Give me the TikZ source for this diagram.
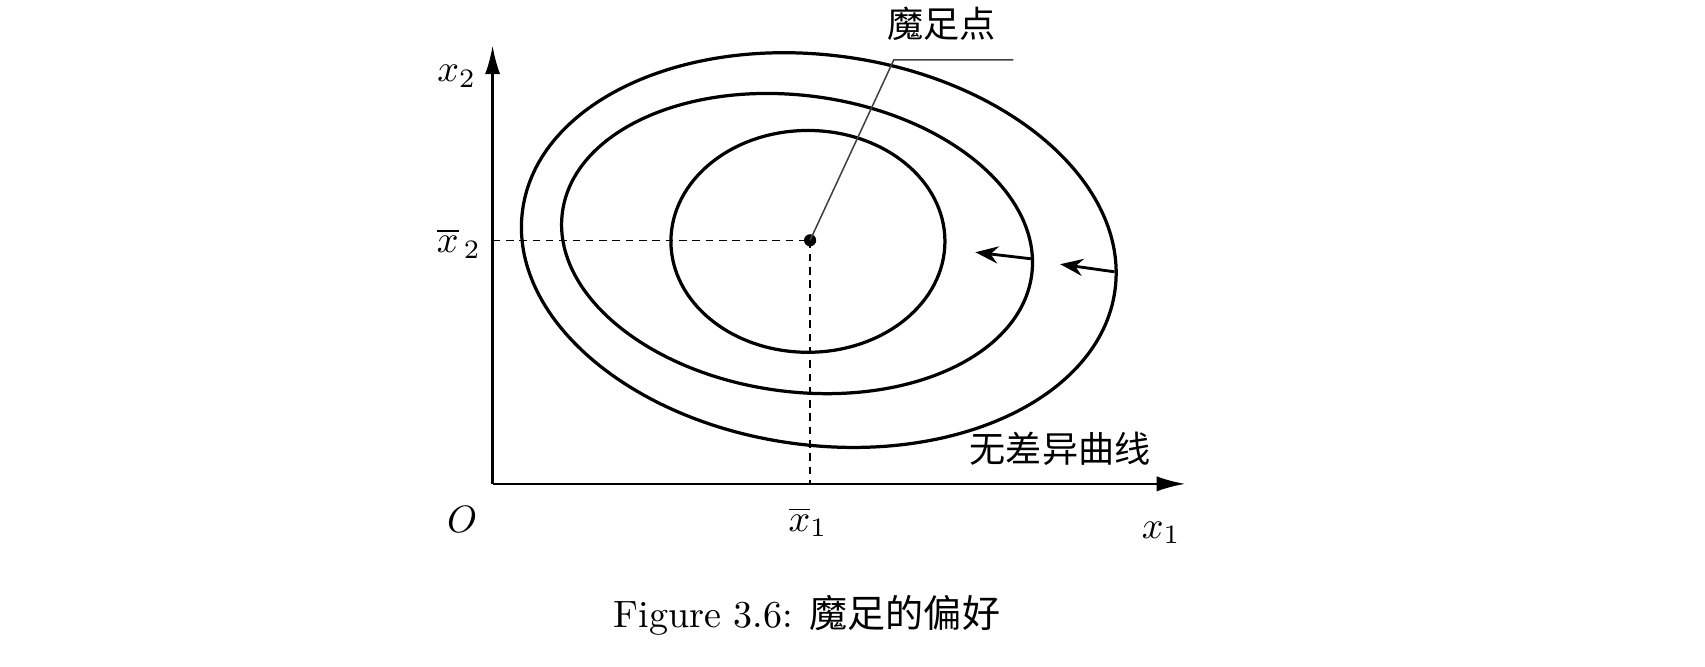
\documentclass[tikz,border=0pt]{standalone}
\usepackage{fontspec}
\newfontfamily\cjk{Noto Sans CJK SC}
\usetikzlibrary{arrows.meta}
\begin{document}
\begin{tikzpicture}[x=0.2857pt,y=0.2857pt,
  curve/.style={line width=0.85pt},
  axis/.style={line width=0.6pt,-{Latex[length=7.5pt,width=4pt]}},
  guide/.style={line width=0.35pt, dash pattern=on 2pt off 1.5pt},
  shiftarrow/.style={line width=0.75pt,-{Stealth[length=6pt,width=4.5pt,inset=2pt]}},
  lbl/.style={inner sep=0pt},
  leader/.style={line width=0.4pt, black!75}]
\useasboundingbox (0,0) rectangle (1568,613);
% axes
\coordinate (O) at (453,168);
\coordinate (ytip) at (453,571);
\coordinate (xtip) at (1090,168);
\draw[axis] (O) -- (ytip);
\draw[axis] (O) -- (xtip);
% indifference curves
\draw[curve] (743,391) ellipse [x radius=36pt, y radius=29.14pt];
\draw[curve, shift={(733,389)}, rotate=-7.6] (0,0) ellipse [x radius=62.2pt, y radius=38.91pt];
\draw[curve, shift={(753,383)}, rotate=-7.7] (0,0) ellipse [x radius=78.54pt, y radius=51.23pt];
% bliss point
\node[circle, fill, inner sep=0pt, minimum size=3.2pt] (pt) at (745,392) {};
\coordinate (y2) at (453,392);
\coordinate (x1) at (745,168);
\draw[guide] (y2) -- (pt.center);
\draw[guide] (pt.center) -- (x1);
% leader
\coordinate (knee) at (822,558);
\coordinate (lend) at (932,558);
\draw[leader] (pt.center) -- (knee) -- (lend);
% arrows
\coordinate (a1s) at (1025,363);
\coordinate (a1e) at (975,370);
\coordinate (a2s) at (948,375);
\coordinate (a2e) at (897,381);
\draw[shiftarrow] (a1s) -- (a1e);
\draw[shiftarrow] (a2s) -- (a2e);
% labels
\node[lbl] (lx2) at (420,543) {$x_2$};
\node[lbl] (lx2b) at (422,389) {$\overline{x}_{\,2}$};
\node[lbl] (lO) at (425,135) {$O$};
\node[lbl] (lx1b) at (743,133) {$\overline{x}_1$};
\node[lbl] (lx1) at (1068,123) {$x_1$};
\node[lbl] (lbliss) at (866,591) {\cjk\fontsize{9.5pt}{11pt}\selectfont 魔足点};
\node[lbl] (lcurve) at (975,200) {\cjk\fontsize{9.5pt}{11pt}\selectfont 无差异曲线};
\node[lbl] (cap) at (742,47) {Figure 3.6: {\cjk 魔足的偏好}};
\end{tikzpicture}
\end{document}
